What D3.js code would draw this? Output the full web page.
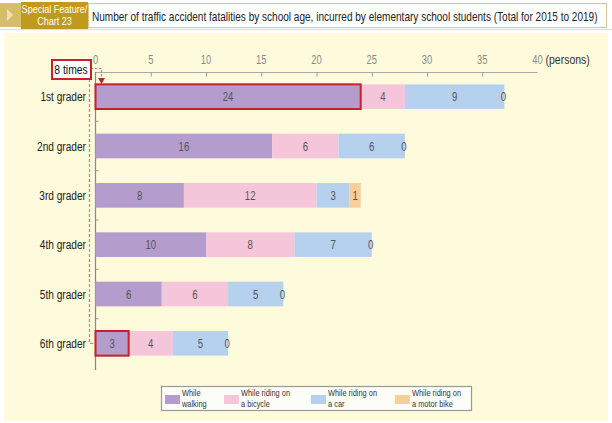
<!DOCTYPE html>
<html><head><meta charset="utf-8">
<script src="https://cdn.jsdelivr.net/npm/d3@7"></script>
<style>
html,body{margin:0;padding:0;background:#fff;}
svg{display:block;}
text{font-family:"Liberation Sans","Arial",sans-serif;}
</style></head>
<body>
<script>
const grades = ["1st grader","2nd grader","3rd grader","4th grader","5th grader","6th grader"];
const walking = [24,16,8,10,6,3];
const bicycle = [4,6,12,8,6,4];
const car = [9,6,3,7,5,5];
const motorBike = [0,0,1,0,0,0];
const seriesNames = ["While walking","While riding on a bicycle","While riding on a car","While riding on a motor bike"];
const legendLines = [["While","walking"],["While riding on","a bicycle"],["While riding on","a car"],["While riding on","a motor bike"]];
const colors = ["#b49ccd","#f5c5da","#b6d1ee","#f8cf96"];
const xTicks = [0,5,10,15,20,25,30,35,40];
const titleText = "Number of traffic accident fatalities by school age, incurred by elementary school students (Total for 2015 to 2019)";

const W = 612, H = 423;
const svg = d3.select("body").append("svg").attr("width", W).attr("height", H);

function squeeze(sel, f){
  sel.each(function(){
    const w = this.getComputedTextLength();
    d3.select(this).attr("textLength", (w*f).toFixed(2)).attr("lengthAdjust","spacingAndGlyphs");
  });
  return sel;
}

// header
svg.append("rect").attr("x",0).attr("y",0).attr("width",W).attr("height",H).attr("fill","#fff");
svg.append("rect").attr("x",0).attr("y",3).attr("width",22).attr("height",24).attr("fill","#d6bd6a");
svg.append("path").attr("d","M7,9 L13,15 L7,21 Z").attr("fill","#efe2b0");
svg.append("rect").attr("x",21).attr("y",2).attr("width",67).attr("height",27).attr("fill","#c09a1c");
squeeze(svg.append("text").attr("x",54.5).attr("y",13).attr("text-anchor","middle").attr("fill","#fff").attr("font-size",10.5).text("Special Feature/"),0.86);
squeeze(svg.append("text").attr("x",54.5).attr("y",24.5).attr("text-anchor","middle").attr("fill","#fff").attr("font-size",10.5).text("Chart 23"),0.86);
svg.append("rect").attr("x",88.5).attr("y",3.5).attr("width",518).attr("height",24).attr("fill","#fff").attr("stroke","#d9c68a").attr("stroke-width",1);
svg.append("line").attr("x1",0).attr("x2",W).attr("y1",29.5).attr("y2",29.5).attr("stroke","#e8ddb6");
const title = svg.append("text").attr("x",0).attr("y",0).attr("fill","#222").attr("font-size",13.5).text(titleText);
const tw = title.node().getComputedTextLength();
title.attr("transform",`translate(92,20.5) scale(${(506/tw).toFixed(4)},1)`);

// panel
svg.append("rect").attr("x",4).attr("y",33).attr("width",604).attr("height",388).attr("fill","#fefadc");

const x = d3.scaleLinear().domain([0,40]).range([95.5,537.5]);
const y = d3.scaleBand().domain(grades).range([72,368]).paddingInner(0.5).paddingOuter(0.25);

// x axis
const xAxis = svg.append("g").attr("transform","translate(0,72.5)")
  .call(d3.axisBottom(x).tickValues(xTicks.filter(t=>t>0 && t<40)).tickSize(4).tickFormat(""));
xAxis.select(".domain").attr("stroke","#aaa").attr("d",`M${x(0)},0H${x(40)}`);
xAxis.selectAll(".tick line").attr("stroke","#999");
squeeze(svg.append("g").selectAll("text").data(xTicks).join("text")
  .attr("x",d=>x(d)).attr("y",63.5).attr("text-anchor","middle")
  .attr("fill","#8a8a8a").attr("font-size",12).text(d=>d),0.78);
squeeze(svg.append("text").attr("x",x(40)+8).attr("y",63.5).attr("fill","#333").attr("font-size",12.5).text("(persons)"),0.84);

// y axis
svg.append("line").attr("x1",95.5).attr("x2",95.5).attr("y1",72).attr("y2",370).attr("stroke","#888").attr("stroke-width",1.2);
const mids = grades.slice(0,-1).map((g,i)=> y(g)+y.bandwidth() + (y.step()-y.bandwidth())/2);
svg.append("g").selectAll("line").data(mids).join("line")
  .attr("x1",95.5).attr("x2",98.5).attr("y1",d=>d).attr("y2",d=>d).attr("stroke","#999");
squeeze(svg.append("g").selectAll("text").data(grades).join("text")
  .attr("x",86).attr("y",d=>y(d)+y.bandwidth()/2+4.5).attr("text-anchor","end")
  .attr("fill","#222").attr("font-size",12.5).text(d=>d),0.81);

// stacked bars
const rows = grades.map((g,i)=>({grade:g, v:[walking[i],bicycle[i],car[i],motorBike[i]]}));
const stackData = rows.map(r=>{
  let acc=0; return r.v.map((val,k)=>{const s={grade:r.grade,k,val,x0:acc,x1:acc+val}; acc+=val; return s;});
}).flat();
svg.append("g").selectAll("rect").data(stackData.filter(d=>d.val>0)).join("rect")
  .attr("x",d=>x(d.x0)).attr("width",d=>x(d.x1)-x(d.x0))
  .attr("y",d=>y(d.grade)).attr("height",y.bandwidth())
  .attr("fill",d=>colors[d.k]);
squeeze(svg.append("g").selectAll("text").data(stackData).join("text")
  .attr("x",d=>d.val>0 ? (x(d.x0)+x(d.x1))/2 : x(d.x0)-1)
  .attr("y",d=>y(d.grade)+y.bandwidth()/2+4.5)
  .attr("text-anchor","middle").attr("fill","#555").attr("font-size",12).text(d=>d.val),0.8);

// highlight outlines
const red = "#cc1f2d";
[0,5].forEach(i=>{
  svg.append("rect").attr("x",x(0)).attr("y",y(grades[i])).attr("width",x(walking[i])-x(0)).attr("height",y.bandwidth())
    .attr("fill","none").attr("stroke",red).attr("stroke-width",2);
});

// annotation
const dash = "#e07c7c";
svg.append("path").attr("d",`M91,68.5 H101.5 V78`).attr("fill","none").attr("stroke",dash).attr("stroke-width",1.2).attr("stroke-dasharray","2.5,1.5");
svg.append("path").attr("d",`M98,78 L105,78 L101.5,84 Z`).attr("fill",red);
const y6 = y(grades[5])+y.bandwidth()/2;
svg.append("path").attr("d",`M89.5,79 V${y6} H95`).attr("fill","none").attr("stroke",dash).attr("stroke-width",1.2).attr("stroke-dasharray","3,2");
svg.append("rect").attr("x",52).attr("y",60).attr("width",39).attr("height",19).attr("fill","#fff").attr("stroke",red).attr("stroke-width",2);
squeeze(svg.append("text").attr("x",71).attr("y",74).attr("text-anchor","middle").attr("fill","#111").attr("font-size",12).text("8 times"),0.86);

// legend
const lg = svg.append("g");
lg.append("rect").attr("x",161.5).attr("y",386.5).attr("width",310).attr("height",24).attr("fill","#fdfdf8").attr("stroke","#9a9a9a").attr("stroke-width",1.2);
const lx = [165,224,311,395];
seriesNames.forEach((n,i)=>{
  lg.append("rect").attr("x",lx[i]).attr("y",395).attr("width",15).attr("height",9).attr("fill",colors[i]);
  legendLines[i].forEach((t,j)=>{
    squeeze(lg.append("text").attr("x",lx[i]+17).attr("y",396+j*11).attr("fill","#333").attr("font-size",9.5).text(t),0.78);
  });
});
</script>
</body></html>
